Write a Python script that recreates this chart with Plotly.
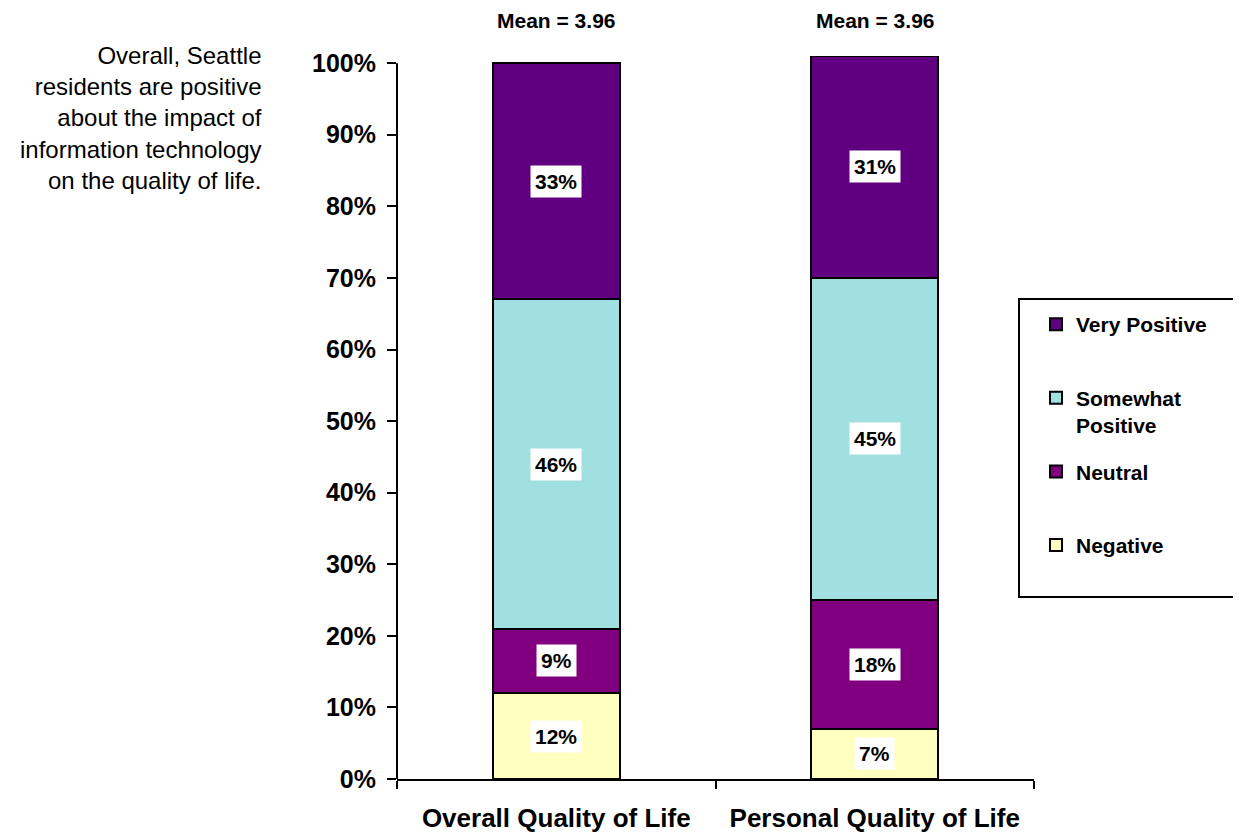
import plotly.graph_objects as go

categories = ["Overall Quality of Life", "Personal Quality of Life"]
negative = [12, 7]
neutral = [9, 18]
somewhat_positive = [46, 45]
very_positive = [33, 31]
means = [3.96, 3.96]

series = [
    ("Negative", negative, "#FFFFC0", 4),
    ("Neutral", neutral, "#800080", 3),
    ("Somewhat<br>Positive", somewhat_positive, "#A0E0E0", 2),
    ("Very Positive", very_positive, "#600080", 1),
]

FONT = "Liberation Sans, Arial, sans-serif"

# page offset (body margin) compensation
OFF = 8
W, H = 1241 - OFF, 835 - OFF
# reference-pixel geometry of the plot
RL, RR, RB, R100 = 397, 1034, 779, 63
YMAX = 101
RTOP = RB - (RB - R100) * YMAX / 100.0


def px_x(p):
    return (p - RL) / (RR - RL)


def px_y(p):
    return (RB - p) / (RB - RTOP)


fig = go.Figure()
for i, (name, vals, col, rank) in enumerate(series):
    disp = name if "<br>" in name else name + "<br> "
    fig.add_trace(go.Bar(
        x=categories, y=vals, name=disp, width=0.4,
        marker=dict(color=col, line=dict(color="black", width=2)),
        legendgroup=f"g{rank}", legendrank=rank,
        hoverinfo="skip",
    ))

annotations = []
for ci, cat in enumerate(categories):
    base = 0
    for name, vals, col, rank in series:
        v = vals[ci]
        annotations.append(dict(
            x=cat, y=base + v / 2, xref="x", yref="y",
            text=f"<b>{v}%</b>", showarrow=False,
            font=dict(family=FONT, size=21, color="black"),
            bgcolor="white", borderpad=4,
        ))
        base += v
    annotations.append(dict(
        x=cat, y=px_y(20), xref="x", yref="paper",
        text=f"<b>Mean = {means[ci]:.2f}</b>", showarrow=False,
        font=dict(family=FONT, size=21, color="black"),
        yanchor="middle",
    ))

annotations.append(dict(
    x=px_x(264), y=px_y(118), xref="paper", yref="paper",
    xanchor="right", yanchor="middle", align="right", showarrow=False,
    text="Overall, Seattle<br>residents are positive<br>about the impact of<br>information technology<br>on the quality of life.",
    font=dict(family=FONT, size=24, color="black"),
))

fig.update_layout(
    width=W, height=H,
    margin=dict(l=RL - OFF, r=W - (RR - OFF), t=round(RTOP - OFF), b=H - (RB - OFF),
                autoexpand=False),
    paper_bgcolor="white", plot_bgcolor="white",
    barmode="stack",
    showlegend=True,
    legend=dict(
        x=px_x(1036), y=px_y(304), xanchor="left", yanchor="top",
        traceorder="grouped", tracegroupgap=16, valign="top",
        font=dict(family=FONT, size=21, color="black", weight="bold"),
        bgcolor="rgba(0,0,0,0)", borderwidth=0,
    ),
    annotations=annotations,
    shapes=[
        dict(type="rect", xref="paper", yref="paper",
             x0=px_x(1019), x1=px_x(1240), y0=px_y(597), y1=px_y(299),
             line=dict(color="black", width=2), fillcolor="rgba(0,0,0,0)"),
        dict(type="line", xref="paper", yref="y", x0=0, x1=0, y0=0, y1=100,
             line=dict(color="black", width=2)),
    ],
    xaxis=dict(
        range=[-0.5, 1.5], showline=True, linecolor="black", linewidth=2,
        ticks="outside", ticklen=8, tickwidth=2, tickcolor="black",
        tickson="boundaries", showgrid=False, zeroline=False,
        tickfont=dict(family=FONT, size=26, color="black", weight="bold"),
        ticklabelstandoff=15,
    ),
    yaxis=dict(
        range=[0, YMAX], tickvals=list(range(0, 101, 10)),
        ticktext=[f"{v}%" for v in range(0, 101, 10)], showline=False,
        ticks="outside", ticklen=9,
        tickwidth=2, tickcolor="black", showgrid=False, zeroline=False,
        tickfont=dict(family=FONT, size=25, color="black", weight="bold"),
        ticklabelstandoff=6,
    ),
)

fig.write_html("out.html")
